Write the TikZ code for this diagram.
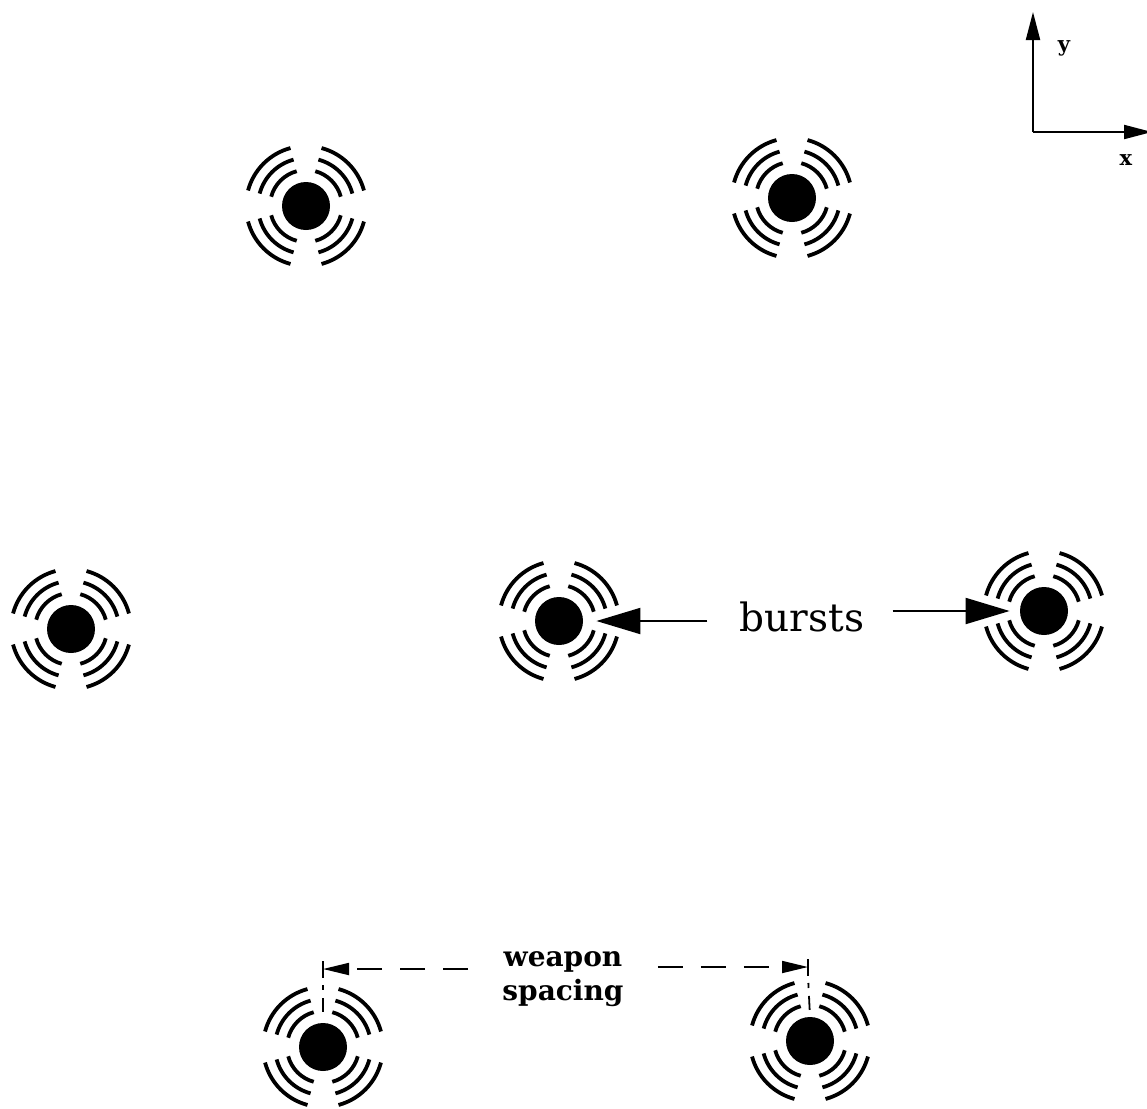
\documentclass[tikz,border=0pt]{standalone}
\usepackage{fontspec}
\setmainfont{DejaVu Serif}
\usetikzlibrary{arrows.meta}
\tikzset{
  burst/.style={circle, fill=black, minimum size=24pt, inner sep=0pt},
  wave/.style={line width=1.9pt},
  ptr/.style={line width=1pt, -{Triangle[length=22pt,width=13pt]}},
  dimline/.style={line width=0.9pt, dash pattern=on 12.5pt off 9pt, -{Triangle[length=13pt,width=6pt]}},
  tickline/.style={line width=0.9pt},
  extline/.style={line width=0.9pt, dash pattern=on 0pt off 3.5pt on 2.5pt off 4pt on 7pt off 40pt},
  axis/.style={line width=1pt, -{Triangle[length=14pt,width=7pt]}},
  axlabel/.style={font=\bfseries\fontsize{10.5}{12}\selectfont, inner sep=0pt}
}
\begin{document}
\begin{tikzpicture}[x=0.5pt,y=-0.5pt]
\useasboundingbox (0,0) rectangle (1147,1109);

% burst centres
\node[burst] (b1) at (306,206) {};
\node[burst] (b2) at (792,198) {};
\node[burst] (b3) at (71,629) {};
\node[burst] (b4) at (559,621) {};
\node[burst] (b5) at (1044,611) {};
\node[burst] (b6) at (323,1047) {};
\node[burst] (b7) at (810,1041) {};

% three broken rings around every burst
\foreach \i in {1,...,7}{
  \foreach \q in {0,90,180,270}{
    \foreach \r in {18pt, 24pt, 30pt}{
      \draw[wave] ([shift={(\q+15:\r)}]b\i.center)
        arc[start angle=\q+15, end angle=\q+75, radius=\r];
    }
  }
}

% label with pointers
\node[font=\fontsize{19.5}{22}\selectfont, inner sep=0pt] (lbl) at (802,617) {bursts};
\draw[ptr, shorten >=6.5pt] ([xshift=-16pt]lbl.west |- b4) -- (b4.east);
\draw[ptr, shorten >=5pt] ([xshift=14pt]lbl.east |- b5) -- (b5.west);

% weapon spacing dimension
\node[font=\bfseries\fontsize{14}{17}\selectfont, align=center, inner sep=0pt] (ws) at (563,979) {weapon\\spacing};
\coordinate (dl) at (323,969);
\coordinate (dr) at (808,967);
\draw[dimline] ([xshift=-17pt]ws.west |- dl) -- (dl);
\draw[dimline] ([xshift=17pt]ws.east |- dr) -- (dr);
\draw[tickline] ([yshift=4pt]dl) -- ([yshift=-4.5pt]dl);
\draw[tickline] ([yshift=4pt]dr) -- ([yshift=-4.5pt]dr);
\draw[extline] ([yshift=-4.5pt]dl) -- (b6.north);
\draw[extline] ([yshift=-4.5pt]dr) -- (b7.north);

% coordinate axes
\coordinate (o) at (1033,132);
\coordinate (ytip) at (1033,12);
\coordinate (xtip) at (1152,132);
\draw[axis] (o) -- (ytip);
\draw[axis] (o) -- (xtip);
\node[axlabel] (ylab) at (1064,48) {y};
\node[axlabel] (xlab) at (1126,160) {x};
\end{tikzpicture}
\end{document}
